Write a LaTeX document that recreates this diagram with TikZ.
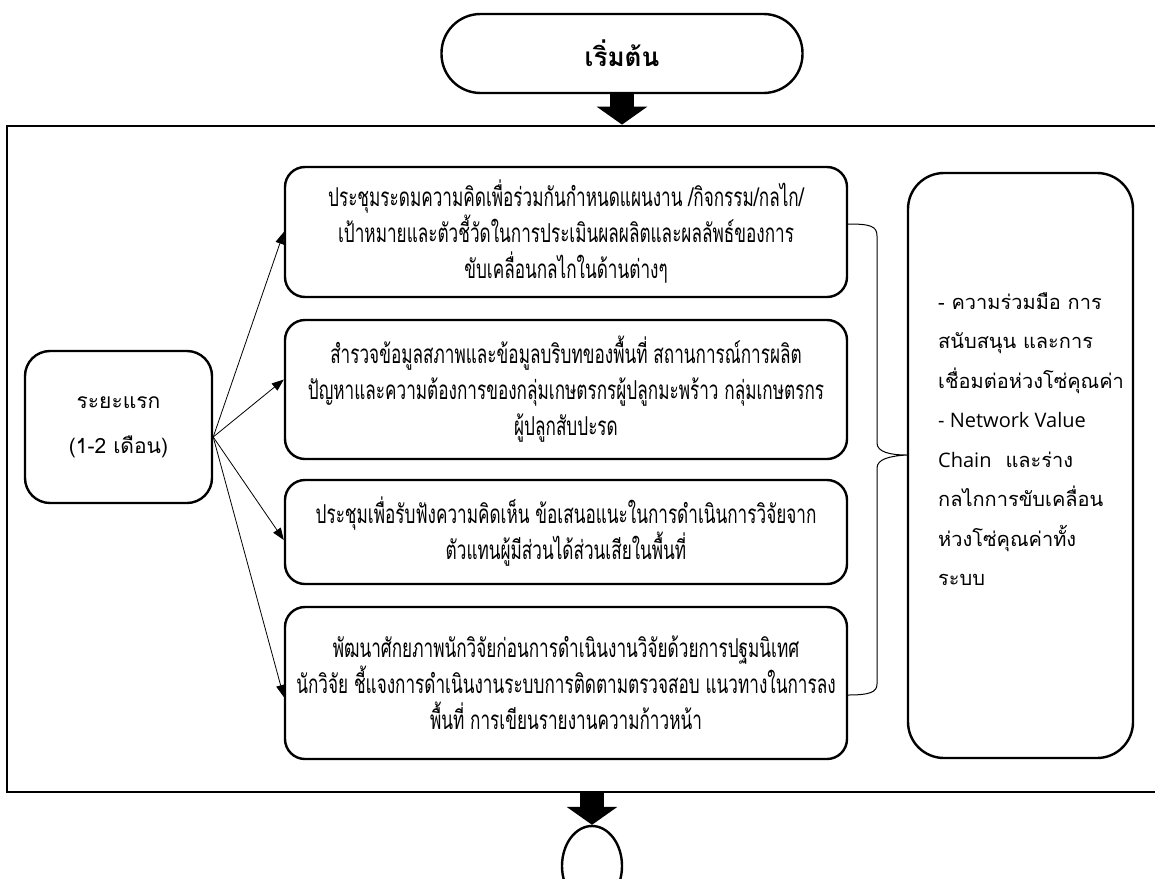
\documentclass[tikz,border=0pt]{standalone}
\usepackage{fontspec}
\newfontfamily\thaifont[Script=Thai]{Loma}
\newfontfamily\thainarrow[Script=Thai,FakeStretch=0.66]{Loma}
\newfontfamily\latinfont{Open Sans}
\usetikzlibrary{arrows.meta,shapes.geometric,calc}

\tikzset{
  stepbox/.style={draw, line width=2.4pt, rounded corners=20pt, minimum width=562pt,
    inner sep=0pt, align=center, font=\thainarrow\fontsize{26}{36}\selectfont},
  thinarrow/.style={line width=0.8pt, -{Triangle[length=12pt,width=9pt]}},
  blockarrow/.style={line width=24pt, -{Triangle[length=18pt,width=50pt]}},
}

\begin{document}
\begin{tikzpicture}[x=1pt,y=-1pt]
\useasboundingbox (0,0) rectangle (1155,878);

% frame, start and end
\node[draw, line width=2.8pt, minimum width=1158pt, minimum height=666pt, inner sep=0pt] (frame) at (586,459) {};
\node[draw, line width=2.4pt, rounded corners=39pt, minimum width=361pt, minimum height=79pt,
  font=\thaifont\bfseries\fontsize{26}{30}\selectfont] (start) at (622,53.5) {เริ่มต้น};
\node[draw, ellipse, line width=2.4pt, minimum width=60pt, minimum height=80pt, inner sep=0pt] (finish) at (592,866) {};

% phase box
\node[draw, line width=2.4pt, rounded corners=25pt, minimum width=187pt, minimum height=152pt,
  align=center, font=\thaifont\fontsize{21}{45}\selectfont] (phase) at (118.5,427) {ระยะแรก\\(1-2 เดือน)};
\coordinate (fork) at ($(phase.east)+(0,10)$);

% activities
\node[stepbox, minimum height=130pt] (act1) at (566,232) {ประชุมระดมความคิดเพื่อร่วมกันกำหนดแผนงาน /กิจกรรม/กลไก/\\เป้าหมายและตัวชี้วัดในการประเมินผลผลิตและผลลัพธ์ของการ\\ขับเคลื่อนกลไกในด้านต่างๆ};
\node[stepbox, minimum height=139pt] (act2) at (566,389.5) {สำรวจข้อมูลสภาพและข้อมูลบริบทของพื้นที่ สถานการณ์การผลิต\\ปัญหาและความต้องการของกลุ่มเกษตรกรผู้ปลูกมะพร้าว กลุ่มเกษตรกร\\ผู้ปลูกสับปะรด};
\node[stepbox, minimum height=104pt] (act3) at (566,532) {ประชุมเพื่อรับฟังความคิดเห็น ข้อเสนอแนะในการดำเนินการวิจัยจาก\\ตัวแทนผู้มีส่วนได้ส่วนเสียในพื้นที่};
\node[stepbox, minimum height=152pt] (act4) at (566,683) {พัฒนาศักยภาพนักวิจัยก่อนการดำเนินงานวิจัยด้วยการปฐมนิเทศ\\นักวิจัย ชี้แจงการดำเนินงานระบบการติดตามตรวจสอบ แนวทางในการลง\\พื้นที่ การเขียนรายงานความก้าวหน้า};

% result box
\node[draw, line width=2.4pt, rounded corners=36pt, minimum width=225pt, minimum height=585pt] (result) at (1020.5,465.5) {};
\node[anchor=north west, align=left, inner sep=0pt, font=\thaifont\fontsize{20}{39.5}\selectfont] (resulttext) at (938,292)
  {- ความร่วมมือ การ\\สนับสนุน และการ\\เชื่อมต่อห่วงโซ่คุณค่า\\{\latinfont - Network Value}\\{\latinfont Chain}\hspace{14pt}และร่าง\\กลไกการขับเคลื่อน\\ห่วงโซ่คุณค่าทั้ง\\ระบบ};

% edges
\draw[blockarrow] (start.south) -- (start.south |- frame.north);
\draw[blockarrow] (finish.north |- frame.south) -- (finish.north);
\path[thinarrow] (fork) edge (act1.west); % to first meeting
\path[thinarrow] (fork) edge ($(act2.west)+(0,-10)$); % to survey
\path[thinarrow] (fork) edge ($(act3.west)+(0,8)$); % to hearing
\path[thinarrow] (fork) edge ($(act4.west)+(0,14)$); % to training

% brace to result
\draw[line width=1pt] (act1.east |- 0,224) .. controls (870,224) and (877,226) .. (877,236) -- (877,443)
  .. controls (877,452) and (890,455) .. (result.west |- 0,455)
  .. controls (890,456) and (877,459) .. (877,468) -- (877,684)
  .. controls (877,692) and (870,695) .. (act4.east |- 0,695);
\end{tikzpicture}
\end{document}
